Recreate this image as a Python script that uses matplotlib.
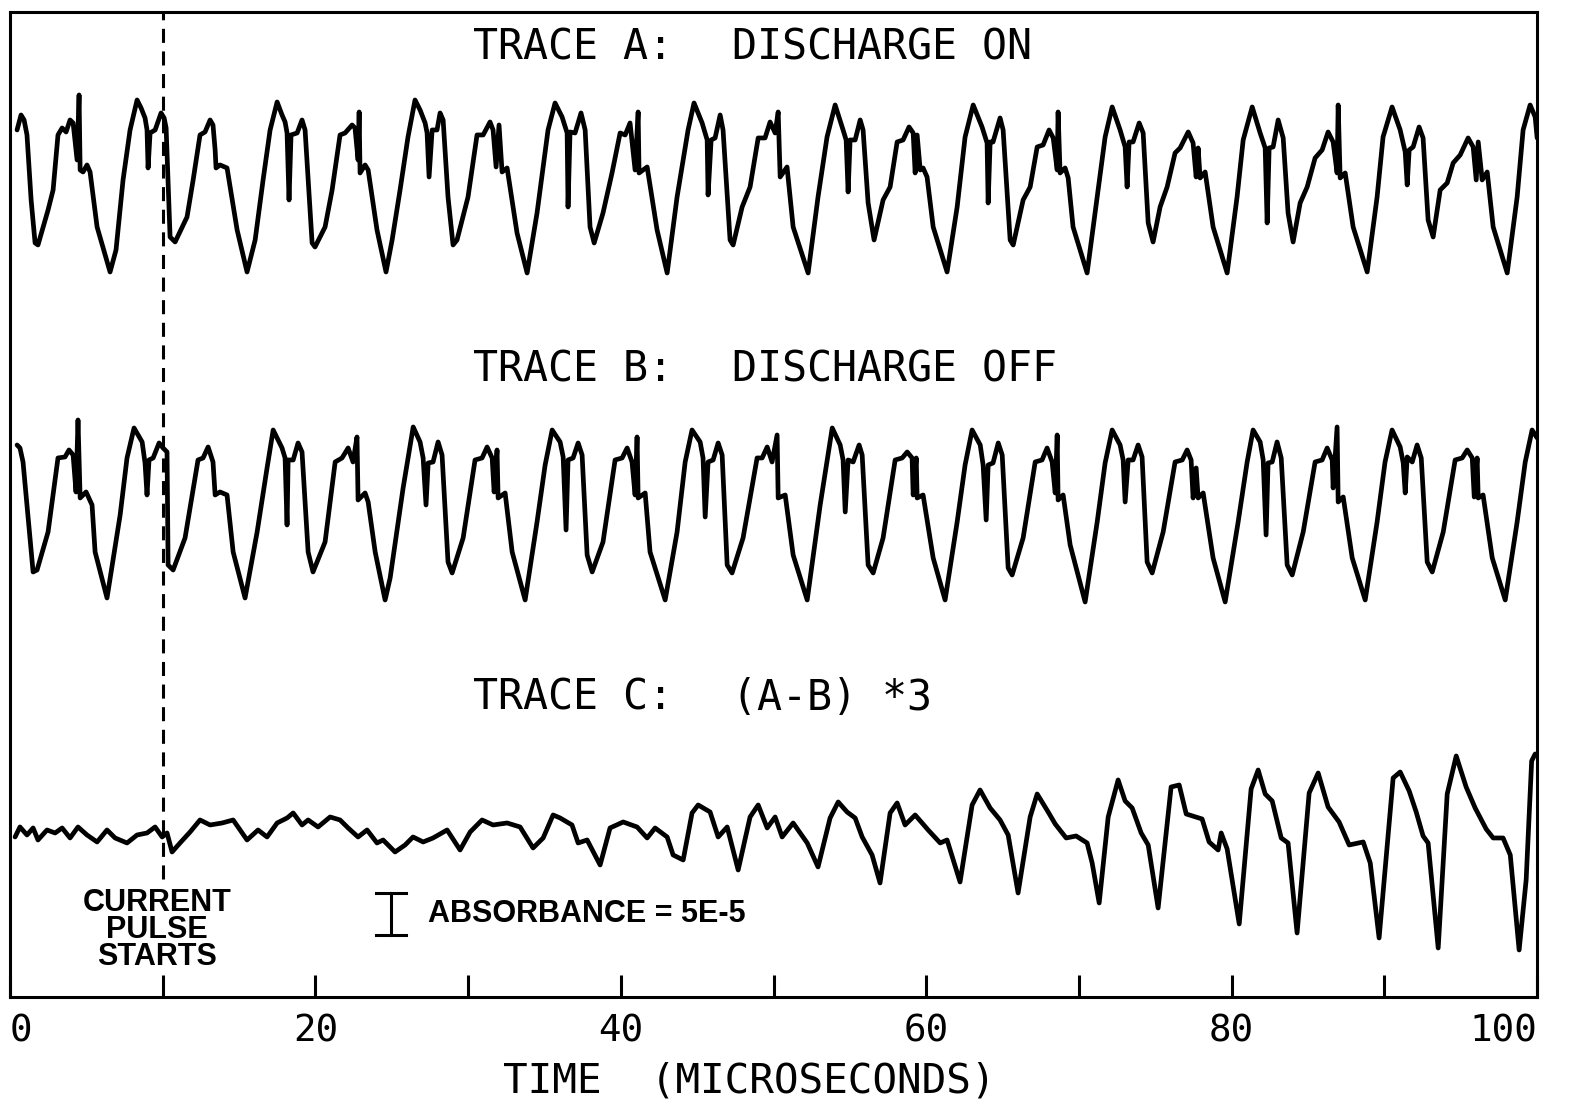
import numpy as np
import matplotlib
matplotlib.use("Agg")
import matplotlib.pyplot as plt

# Absorption traces, time in microseconds, vertical value in chart units
# (the three traces are stacked top to bottom on one shared scale).
TRACE_A = [
    (0.46, 867), (0.72, 882), (0.92, 877), (1.11, 862), (1.38, 797), (1.64, 754), (1.83, 752),
    (2.49, 787), (2.82, 807), (3.14, 862), (3.41, 869), (3.67, 865), (3.93, 877), (4.13, 874),
    (4.39, 837), (4.52, 902), (4.59, 827), (4.78, 825), (5.04, 832), (5.24, 825), (5.70, 770),
    (6.55, 725), (6.94, 747), (7.40, 817), (7.86, 867), (8.32, 897), (8.58, 889), (8.84, 879),
    (8.97, 867), (9.04, 829), (9.17, 864), (9.50, 867), (9.89, 884), (10.09, 879), (10.22, 869),
    (10.48, 760), (10.81, 755), (11.59, 780), (11.99, 817), (12.44, 862), (12.77, 865),
    (13.10, 877), (13.29, 872), (13.43, 847), (13.49, 829), (13.75, 832), (14.21, 829),
    (14.87, 767), (15.52, 725), (16.05, 757), (16.57, 817), (17.03, 867), (17.49, 895),
    (17.81, 882), (18.01, 875), (18.14, 864), (18.27, 797), (18.40, 862), (18.80, 864),
    (19.12, 877), (19.32, 867), (19.78, 754), (19.97, 750), (20.63, 770), (21.09, 807),
    (21.61, 862), (21.94, 864), (22.40, 872), (22.59, 869), (22.79, 837), (22.86, 885),
    (22.92, 824), (23.25, 832), (23.45, 827), (24.03, 767), (24.62, 725), (25.02, 757),
    (25.54, 807), (26.06, 860), (26.52, 897), (26.85, 887), (27.18, 874), (27.31, 864),
    (27.44, 820), (27.64, 867), (27.96, 867), (28.16, 884), (28.36, 877), (28.68, 800),
    (29.01, 752), (29.27, 757), (29.99, 800), (30.58, 862), (30.98, 862), (31.43, 875),
    (31.63, 867), (31.83, 830), (32.02, 872), (32.22, 825), (32.55, 829), (33.20, 764),
    (33.86, 724), (34.51, 784), (35.23, 867), (35.69, 894), (36.15, 880), (36.48, 864),
    (36.54, 790), (36.67, 865), (37.00, 864), (37.39, 884), (37.66, 867), (37.98, 770),
    (38.25, 754), (38.83, 784), (39.42, 824), (39.95, 864), (40.28, 862), (40.60, 874),
    (40.93, 827), (41.13, 885), (41.19, 824), (41.72, 830), (42.37, 767), (43.03, 724),
    (43.68, 800), (44.40, 867), (44.79, 894), (45.32, 874), (45.65, 857), (45.71, 802),
    (45.91, 857), (46.17, 859), (46.50, 882), (46.69, 867), (47.15, 757), (47.35, 752),
    (47.94, 790), (48.46, 810), (48.99, 859), (49.44, 859), (49.77, 875), (50.10, 864),
    (50.30, 885), (50.43, 820), (50.88, 830), (51.28, 770), (52.26, 724), (52.91, 800),
    (53.50, 860), (54.03, 892), (54.55, 867), (54.75, 857), (54.88, 805), (55.01, 857),
    (55.34, 857), (55.67, 877), (55.86, 867), (56.19, 794), (56.58, 757), (57.17, 797),
    (57.63, 810), (58.09, 855), (58.48, 857), (58.87, 870), (59.14, 864), (59.27, 824),
    (59.40, 862), (59.60, 827), (59.79, 829), (60.05, 820), (60.45, 770), (61.36, 725),
    (62.02, 790), (62.54, 860), (63.07, 892), (63.65, 870), (63.98, 854), (64.05, 794),
    (64.18, 855), (64.37, 855), (64.83, 879), (65.03, 867), (65.49, 757), (65.69, 752),
    (66.34, 797), (66.80, 810), (67.26, 850), (67.65, 852), (68.04, 867), (68.31, 859),
    (68.57, 827), (68.63, 885), (68.76, 824), (69.09, 829), (69.29, 819), (69.61, 770),
    (70.53, 724), (71.19, 800), (71.71, 860), (72.17, 890), (72.69, 867), (73.02, 850),
    (73.15, 810), (73.28, 855), (73.54, 855), (73.94, 874), (74.20, 864), (74.53, 774),
    (74.85, 755), (75.31, 790), (75.77, 810), (76.29, 844), (76.62, 849), (77.15, 865),
    (77.47, 854), (77.67, 820), (77.80, 849), (77.93, 819), (78.26, 825), (78.78, 770),
    (79.70, 724), (80.35, 800), (80.75, 857), (81.34, 890), (81.86, 864), (82.19, 849),
    (82.32, 774), (82.45, 849), (82.71, 850), (83.04, 877), (83.37, 859), (83.69, 784),
    (84.02, 755), (84.48, 794), (84.94, 810), (85.46, 839), (85.92, 847), (86.31, 865),
    (86.64, 855), (86.90, 824), (86.97, 892), (87.10, 819), (87.43, 824), (87.95, 770),
    (88.87, 725), (89.52, 800), (89.91, 860), (90.50, 890), (91.03, 867), (91.36, 845),
    (91.49, 812), (91.62, 847), (91.88, 850), (92.27, 870), (92.53, 859), (92.86, 777),
    (93.19, 760), (93.65, 807), (94.11, 814), (94.50, 834), (94.96, 842), (95.48, 859),
    (95.81, 850), (96.01, 817), (96.14, 855), (96.40, 817), (96.73, 825), (97.12, 770),
    (98.04, 724), (98.69, 800), (99.08, 867), (99.54, 892), (99.87, 880), (100.0, 859),
]

TRACE_B = [
    (0.46, 552), (0.65, 549), (0.85, 535), (1.51, 425), (1.77, 427), (2.49, 465), (3.14, 539),
    (3.60, 540), (3.86, 547), (4.13, 542), (4.32, 505), (4.45, 577), (4.59, 499), (4.98, 505),
    (5.37, 492), (5.57, 445), (6.35, 399), (7.21, 482), (7.66, 539), (8.12, 569), (8.65, 555),
    (8.84, 534), (8.97, 502), (9.10, 537), (9.37, 539), (9.76, 554), (10.02, 549), (10.28, 545),
    (10.35, 432), (10.68, 427), (11.46, 459), (12.31, 537), (12.64, 539), (12.97, 550),
    (13.29, 535), (13.43, 502), (13.75, 505), (14.21, 502), (14.61, 445), (15.39, 399),
    (16.18, 465), (16.83, 529), (17.23, 567), (17.81, 549), (18.01, 539), (18.14, 472),
    (18.21, 537), (18.54, 537), (18.86, 554), (19.12, 545), (19.52, 445), (19.84, 425),
    (20.63, 455), (21.29, 535), (21.74, 539), (22.14, 549), (22.46, 535), (22.72, 560),
    (22.79, 497), (23.25, 504), (23.45, 495), (23.91, 445), (24.56, 397), (24.89, 419),
    (25.74, 509), (26.40, 570), (26.85, 555), (27.05, 539), (27.24, 492), (27.38, 534),
    (27.70, 535), (28.03, 555), (28.29, 542), (28.68, 435), (28.95, 424), (29.67, 459),
    (30.45, 537), (30.91, 539), (31.24, 550), (31.57, 539), (31.70, 505), (31.89, 547),
    (31.96, 499), (32.42, 504), (32.88, 445), (33.73, 397), (34.51, 475), (35.04, 532),
    (35.50, 567), (36.02, 555), (36.22, 540), (36.41, 467), (36.54, 537), (36.87, 539),
    (37.20, 554), (37.46, 542), (37.79, 442), (38.12, 425), (38.83, 455), (39.62, 537),
    (40.08, 539), (40.41, 549), (40.73, 535), (40.93, 502), (41.06, 560), (41.13, 499),
    (41.59, 504), (41.91, 445), (42.90, 397), (43.68, 465), (44.21, 535), (44.66, 567),
    (45.19, 555), (45.38, 539), (45.52, 480), (45.71, 535), (46.04, 537), (46.37, 554),
    (46.63, 542), (46.96, 432), (47.28, 424), (48.00, 459), (48.92, 539), (49.25, 539),
    (49.58, 550), (49.90, 535), (50.23, 562), (50.30, 499), (50.76, 502), (51.28, 442),
    (52.20, 397), (53.05, 492), (53.84, 569), (54.36, 552), (54.55, 537), (54.69, 485),
    (54.88, 537), (55.21, 535), (55.60, 552), (55.80, 542), (56.19, 432), (56.52, 424),
    (57.17, 459), (57.96, 537), (58.42, 539), (58.75, 545), (59.07, 539), (59.14, 502),
    (59.34, 539), (59.40, 499), (59.79, 502), (60.45, 439), (61.23, 397), (62.02, 475),
    (62.54, 532), (63.00, 567), (63.53, 552), (63.72, 532), (63.92, 477), (64.05, 532),
    (64.37, 534), (64.71, 554), (64.97, 542), (65.36, 429), (65.62, 422), (66.34, 459),
    (67.13, 535), (67.58, 537), (67.91, 549), (68.24, 535), (68.44, 504), (68.57, 562),
    (68.63, 497), (68.96, 502), (69.42, 452), (70.40, 395), (71.19, 475), (71.71, 534),
    (72.17, 567), (72.69, 552), (72.89, 537), (73.02, 495), (73.22, 537), (73.54, 537),
    (73.87, 552), (74.13, 540), (74.46, 435), (74.79, 424), (75.51, 465), (76.29, 535),
    (76.76, 537), (77.08, 547), (77.34, 537), (77.47, 499), (77.67, 529), (77.80, 499),
    (78.13, 504), (78.78, 439), (79.57, 395), (80.42, 475), (81.01, 535), (81.40, 567),
    (81.86, 555), (82.06, 537), (82.25, 462), (82.38, 534), (82.65, 535), (82.97, 555),
    (83.24, 539), (83.63, 432), (83.96, 422), (84.68, 465), (85.46, 535), (85.92, 537),
    (86.25, 549), (86.58, 537), (86.64, 509), (86.90, 570), (86.97, 495), (87.30, 500),
    (87.89, 439), (88.74, 397), (89.52, 475), (90.04, 535), (90.50, 567), (91.03, 550),
    (91.23, 534), (91.36, 504), (91.49, 540), (91.82, 535), (92.14, 552), (92.41, 539),
    (92.80, 435), (93.13, 425), (93.85, 465), (94.63, 537), (95.09, 539), (95.42, 547),
    (95.75, 539), (95.88, 500), (96.07, 539), (96.14, 499), (96.46, 502), (97.06, 439),
    (97.91, 397), (98.69, 475), (99.22, 535), (99.67, 567), (100.0, 559),
]

# (A-B)*3
TRACE_C = [
    (0.33, 160), (0.65, 170), (1.11, 162), (1.51, 169), (1.83, 157), (2.42, 167), (2.95, 164),
    (3.41, 169), (3.93, 159), (4.45, 170), (5.04, 162), (5.70, 155), (6.35, 167), (6.88, 159),
    (7.66, 154), (8.32, 162), (8.97, 164), (9.50, 170), (9.96, 160), (10.28, 164), (10.61, 145),
    (11.13, 154), (11.79, 165), (12.44, 177), (13.10, 172), (13.89, 174), (14.61, 177),
    (15.52, 157), (16.24, 167), (16.83, 160), (17.49, 174), (18.14, 179), (18.54, 184),
    (19.12, 172), (19.52, 177), (20.17, 170), (20.96, 180), (21.61, 177), (22.14, 169),
    (22.79, 160), (23.38, 167), (24.03, 154), (24.43, 157), (25.21, 145), (25.87, 152),
    (26.39, 160), (27.05, 155), (27.70, 159), (28.62, 167), (29.47, 147), (30.13, 165),
    (30.91, 177), (31.63, 172), (32.55, 174), (33.40, 170), (34.25, 149), (34.91, 159),
    (35.56, 182), (36.02, 179), (36.80, 172), (37.20, 154), (37.79, 157), (38.64, 132),
    (39.29, 169), (40.15, 175), (41.06, 170), (41.72, 159), (42.24, 169), (43.03, 160),
    (43.42, 142), (44.08, 137), (44.66, 184), (45.06, 192), (45.84, 185), (46.37, 160),
    (46.96, 170), (47.68, 127), (48.46, 180), (48.99, 192), (49.58, 169), (50.10, 180),
    (50.56, 160), (51.28, 174), (52.20, 154), (52.91, 130), (53.70, 179), (54.23, 195),
    (54.81, 185), (55.34, 179), (55.80, 160), (56.45, 142), (56.97, 114), (57.63, 184),
    (58.09, 194), (58.61, 172), (59.27, 182), (60.12, 167), (60.91, 154), (61.36, 157),
    (62.21, 115), (63.00, 192), (63.52, 207), (64.18, 189), (64.83, 177), (65.36, 162),
    (66.01, 104), (66.80, 180), (67.26, 203), (67.98, 185), (68.44, 173), (69.16, 159),
    (69.81, 161), (70.53, 154), (70.86, 134), (71.32, 94), (71.91, 180), (72.56, 217),
    (73.02, 196), (73.48, 189), (74.07, 164), (74.53, 152), (75.18, 89), (76.03, 210),
    (76.56, 212), (77.02, 183), (78.06, 178), (78.52, 155), (79.11, 147), (79.31, 164),
    (79.70, 148), (80.49, 73), (81.27, 208), (81.73, 227), (82.19, 203), (82.65, 196),
    (83.24, 159), (83.69, 154), (84.28, 64), (85.07, 204), (85.66, 224), (86.31, 190),
    (87.03, 175), (87.69, 152), (88.61, 155), (89.07, 134), (89.65, 59), (90.57, 219),
    (91.03, 225), (91.62, 206), (92.08, 185), (92.53, 161), (92.86, 154), (93.52, 49),
    (94.11, 203), (94.70, 241), (95.35, 210), (95.94, 189), (96.66, 168), (97.12, 159),
    (97.77, 159), (98.24, 142), (98.82, 47), (99.28, 117), (99.64, 236), (99.87, 243),
]

TRACE_TITLES = [
    ("TRACE A:", "DISCHARGE ON", 949),
    ("TRACE B:", "DISCHARGE OFF", 627),
    ("TRACE C:", "(A-B) *3", 299),
]

PULSE_START = 10.0          # microseconds
SCALE_BAR = 42              # chart units equal to absorbance 5E-5
TICKS = np.arange(0, 101, 10)

MONO = ["DejaVu Sans Mono"]
NARROW = ["Liberation Sans"]

fig = plt.figure(figsize=(15.69, 11.08), dpi=100)
ax = fig.add_axes([0.0064, 0.1002, 0.9733, 0.8890])
ax.set_xlim(0, 100)
ax.set_ylim(0, 985)

for trace in (TRACE_A, TRACE_B, TRACE_C):
    t, v = np.array(trace).T
    ax.plot(t, v, color="black", lw=3.4, solid_joinstyle="round", solid_capstyle="round")

# current pulse marker
ax.axvline(PULSE_START, ymin=0.12, ymax=1.0, color="black", lw=2.2,
           linestyle=(0, (4.6, 2.8)))

for left, right, y in TRACE_TITLES:
    ax.text(30.3, y, left, fontsize=30, family=MONO, va="center", ha="left")
    ax.text(47.3, y, right, fontsize=30, family=MONO, va="center", ha="left")

ax.text(9.63, 67, "CURRENT\nPULSE\nSTARTS", fontsize=22, family=NARROW,
        fontweight="bold", fontstretch="condensed", ha="center", va="center",
        linespacing=0.88)

# absorbance scale bar
bar_x, bar_y0 = 24.95, 62
ax.plot([bar_x, bar_x], [bar_y0, bar_y0 + SCALE_BAR], color="black", lw=2.2)
for yy in (bar_y0, bar_y0 + SCALE_BAR):
    ax.plot([bar_x - 1.0, bar_x + 1.0], [yy, yy], color="black", lw=2.2)
ax.text(27.4, bar_y0 + SCALE_BAR / 2, "ABSORBANCE = 5E-5", fontsize=22, family=NARROW,
        fontweight="bold", fontstretch="condensed", ha="left", va="center")

ax.set_yticks([])
ax.set_xticks(TICKS)
ax.set_xticklabels([f"{x:d}" if x % 20 == 0 else "" for x in TICKS])
ax.tick_params(axis="x", direction="in", length=16, width=2.2, pad=12, labelsize=27)
for lab in ax.get_xticklabels():
    lab.set_family(MONO)
labels = ax.get_xticklabels()
labels[0].set_horizontalalignment("left")
labels[-1].set_horizontalalignment("right")
for side in ("left", "right", "top", "bottom"):
    ax.spines[side].set_linewidth(2.2)

fig.text(0.4774, 0.0235, "TIME  (MICROSECONDS)", fontsize=29.5, family=MONO,
         ha="center", va="center")

fig.savefig("out.png", dpi=100, facecolor="white")
